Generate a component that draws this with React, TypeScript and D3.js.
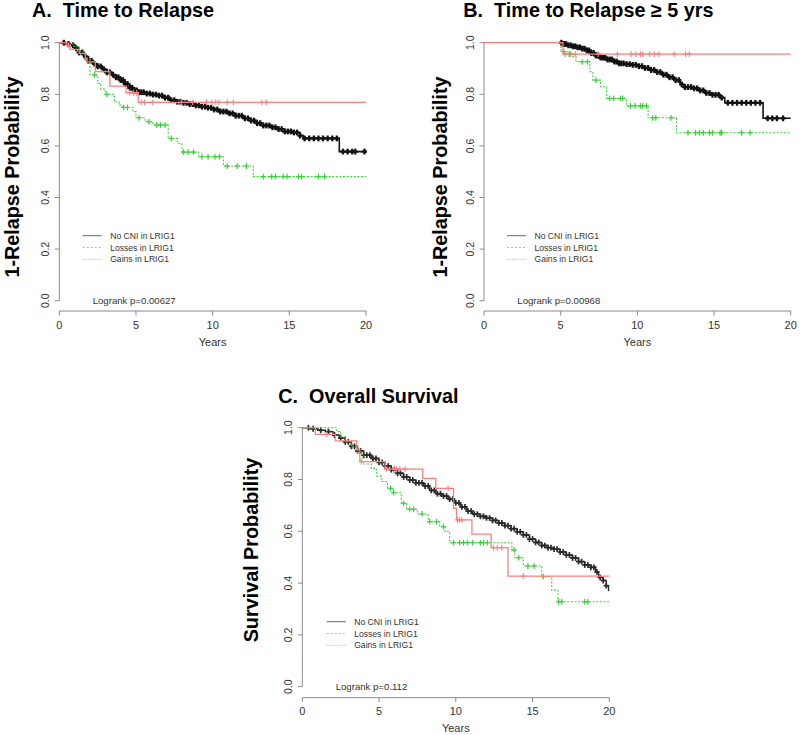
import React from "react";
import * as d3 from "d3";

// ---------- shared ticks / labels ----------
const xTicks = [0, 5, 10, 15, 20];
const yTicks = [0, 0.2, 0.4, 0.6, 0.8, 1.0];
const legendLabels = ["No CNI in LRIG1", "Losses in LRIG1", "Gains in LRIG1"];

// ---------- Panel A: Time to Relapse ----------
const A_noCNI_steps: [number, number][] = [
  [0, 1], [0.4, 0.995], [0.7, 0.99], [1.0, 0.978], [1.3, 0.962], [1.6, 0.946], [1.9, 0.93], [2.2, 0.918],
  [2.5, 0.908], [2.8, 0.897], [3.1, 0.885], [3.4, 0.876], [3.7, 0.866], [4.0, 0.855], [4.3, 0.84], [4.6, 0.825],
  [4.9, 0.815], [5.2, 0.808], [5.6, 0.803], [6.0, 0.799], [6.4, 0.795], [6.8, 0.787], [7.2, 0.777], [7.6, 0.771],
  [8.0, 0.767], [8.4, 0.762], [8.8, 0.757], [9.2, 0.752], [9.6, 0.748], [10.0, 0.741], [10.5, 0.733], [11.0, 0.726],
  [11.5, 0.717], [12.0, 0.707], [12.5, 0.698], [12.9, 0.688], [13.3, 0.679], [13.8, 0.672], [14.3, 0.665],
  [14.7, 0.656], [15.2, 0.652], [15.7, 0.64], [15.9, 0.629], [18.26, 0.578],
];
const A_noCNI_cens = [
  0.3, 0.6, 0.9, 1.1, 1.3, 1.5, 1.7, 1.9, 2.1, 2.3, 2.5, 2.7, 2.9, 3.1, 3.3, 3.5, 3.7, 3.85, 4.0, 4.15, 4.3,
  4.45, 4.6, 4.75, 4.9, 5.05, 5.2, 5.35, 5.5, 5.7, 5.9, 6.1, 6.3, 6.5, 6.7, 6.9, 7.1, 7.3, 7.5, 7.7, 7.9, 8.1,
  8.3, 8.5, 8.7, 8.9, 9.1, 9.3, 9.5, 9.7, 9.9, 10.1, 10.3, 10.5, 10.7, 10.9, 11.1, 11.3, 11.5, 11.7, 11.9, 12.1,
  12.3, 12.5, 12.7, 12.9, 13.1, 13.3, 13.5, 13.7, 13.9, 14.1, 14.3, 14.5, 14.7, 14.9, 15.1, 15.3, 15.5, 15.7,
  16.0, 16.3, 16.6, 16.9, 17.2, 17.5, 17.8, 18.1, 18.5, 18.8, 19.1, 19.3, 19.9,
];
const A_loss_steps: [number, number][] = [
  [0, 1], [0.5, 0.995], [0.9, 0.985], [1.3, 0.965], [1.7, 0.935], [2.0, 0.875], [2.5, 0.842], [2.7, 0.82],
  [3.0, 0.8], [3.6, 0.771], [3.9, 0.758], [4.1, 0.749], [4.8, 0.733], [5.0, 0.709], [5.6, 0.694], [6.1, 0.681],
  [7.1, 0.629], [7.7, 0.61], [8.0, 0.576], [9.1, 0.558], [10.7, 0.522], [12.65, 0.481],
];
const A_loss_cens = [
  2.3, 3.1, 4.2, 4.45, 5.2, 5.85, 6.35, 6.6, 6.9, 7.3, 8.1, 8.4, 8.75, 9.3, 9.7, 10.15, 10.45, 10.95, 11.6,
  12.2, 13.3, 13.85, 14.1, 14.6, 14.85, 15.6, 15.8, 16.9, 17.3,
];
const A_gain_steps: [number, number][] = [
  [0, 1], [0.45, 0.99], [0.7, 0.974], [1.3, 0.959], [1.7, 0.94], [1.8, 0.926], [2.35, 0.888], [3.3, 0.832],
  [4.35, 0.806], [5.15, 0.769],
];
const A_gain_cens = [0.6, 4.6, 4.85, 5.05, 5.35, 5.55, 6.1, 7.95, 8.7, 9.6, 9.95, 10.2, 10.4, 10.95, 11.35, 13.2, 13.5];

// ---------- Panel B: Time to Relapse >= 5 yrs (conditional curves begin at 5 yrs) ----------
const B_noCNI_steps: [number, number][] = [
  [5.0, 1], [5.1, 0.995], [5.4, 0.99], [5.8, 0.986], [6.1, 0.982], [6.4, 0.977], [6.7, 0.97], [7.0, 0.96],
  [7.3, 0.95], [7.6, 0.942], [8.0, 0.935], [8.4, 0.927], [8.8, 0.92], [9.2, 0.917], [9.6, 0.914], [10.0, 0.909],
  [10.4, 0.902], [10.8, 0.894], [11.2, 0.886], [11.6, 0.876], [12.0, 0.866], [12.4, 0.855], [12.8, 0.838],
  [13.1, 0.828], [13.6, 0.823], [14.0, 0.815], [14.4, 0.805], [14.9, 0.798], [15.4, 0.787], [15.7, 0.767],
  [18.2, 0.707],
];
const B_noCNI_cens = [
  5.05, 5.15, 5.25, 5.35, 5.5, 5.65, 5.8, 5.95, 6.1, 6.25, 6.4, 6.55, 6.7, 6.85, 7.0, 7.15, 7.3, 7.45, 7.6, 7.75,
  7.9, 8.05, 8.2, 8.35, 8.5, 8.65, 8.8, 8.95, 9.1, 9.3, 9.5, 9.7, 9.9, 10.1, 10.3, 10.5, 10.7, 10.9, 11.1, 11.3,
  11.5, 11.7, 11.9, 12.1, 12.3, 12.5, 12.7, 12.9, 13.1, 13.3, 13.5, 13.7, 13.9, 14.1, 14.3, 14.5, 14.7, 14.9,
  15.1, 15.3, 15.5, 15.9, 16.2, 16.5, 16.8, 17.1, 17.4, 17.7, 18.0, 18.5, 18.8, 19.1, 19.5,
];
const B_loss_steps: [number, number][] = [
  [5.0, 1], [5.02, 0.965], [5.5, 0.956], [5.8, 0.946], [6.0, 0.926], [6.9, 0.888], [7.1, 0.855], [7.6, 0.829],
  [8.0, 0.784], [9.3, 0.755], [10.7, 0.709], [12.55, 0.651],
];
const B_loss_cens = [
  5.2, 5.55, 5.65, 6.4, 6.75, 7.3, 8.2, 8.45, 8.9, 9.05, 9.55, 9.85, 10.2, 10.35, 10.6, 11.0, 11.2, 12.2, 13.3,
  13.8, 14.05, 14.3, 14.7, 14.9, 15.4, 15.5, 16.8, 17.35,
];
const B_gain_steps: [number, number][] = [[0, 1], [5.15, 0.956]];
const B_gain_cens = [5.3, 5.6, 5.95, 7.45, 8.7, 9.6, 9.9, 10.2, 10.35, 10.8, 11.1, 11.4, 12.4, 13.15, 13.4];

// ---------- Panel C: Overall Survival ----------
const C_noCNI_steps: [number, number][] = [
  [0, 1], [0.5, 0.996], [1.0, 0.99], [1.5, 0.985], [2.0, 0.972], [2.4, 0.96], [2.8, 0.945], [3.2, 0.928],
  [3.6, 0.91], [4.0, 0.894], [4.5, 0.881], [5.0, 0.866], [5.4, 0.852], [5.8, 0.838], [6.2, 0.824], [6.6, 0.81],
  [7.0, 0.798], [7.4, 0.787], [7.9, 0.775], [8.3, 0.758], [8.7, 0.745], [9.1, 0.736], [9.5, 0.724], [9.9, 0.71],
  [10.3, 0.694], [10.7, 0.678], [11.1, 0.666], [11.6, 0.658], [12.0, 0.652], [12.4, 0.642], [12.8, 0.632],
  [13.2, 0.622], [13.6, 0.61], [14.0, 0.598], [14.4, 0.586], [14.8, 0.57], [15.2, 0.557], [15.6, 0.545],
  [16.0, 0.537], [16.4, 0.531], [16.8, 0.52], [17.2, 0.509], [17.6, 0.497], [18.0, 0.483], [18.4, 0.47],
  [18.8, 0.461], [19.1, 0.443], [19.3, 0.422], [19.6, 0.41], [19.8, 0.39], [19.95, 0.372],
];
const C_noCNI_cens = [
  0.4, 0.7, 1.2, 1.7, 2.1, 2.5, 2.8, 3.0, 3.2, 3.4, 3.6, 3.8, 4.0, 4.2, 4.4, 4.6, 4.8, 5.0, 5.2, 5.4, 5.6, 5.8,
  6.0, 6.2, 6.4, 6.6, 6.8, 7.0, 7.2, 7.4, 7.6, 7.8, 8.0, 8.2, 8.4, 8.6, 8.8, 9.0, 9.2, 9.4, 9.6, 9.8, 10.0, 10.2,
  10.4, 10.6, 10.8, 11.0, 11.2, 11.4, 11.6, 11.8, 12.0, 12.2, 12.4, 12.6, 12.8, 13.0, 13.2, 13.4, 13.6, 13.8,
  14.0, 14.2, 14.4, 14.6, 14.8, 15.0, 15.2, 15.4, 15.6, 15.8, 16.0, 16.2, 16.4, 16.6, 16.8, 17.0, 17.2, 17.4,
  17.6, 17.8, 18.0, 18.2, 18.4, 18.6, 18.8, 19.0, 19.2, 19.4, 19.6, 19.8,
];
const C_loss_steps: [number, number][] = [
  [0, 1], [2.25, 0.985], [2.5, 0.965], [2.8, 0.946], [3.2, 0.927], [3.6, 0.901], [3.95, 0.86], [4.5, 0.843],
  [4.85, 0.813], [5.15, 0.792], [5.55, 0.766], [5.9, 0.749], [6.45, 0.708], [6.8, 0.685], [7.5, 0.667],
  [8.2, 0.637], [8.95, 0.618], [9.3, 0.599], [9.6, 0.556], [13.65, 0.528], [13.85, 0.498], [14.4, 0.466],
  [15.6, 0.425], [16.25, 0.373], [16.65, 0.328],
];
const C_loss_cens = [
  5.75, 5.95, 6.6, 7.0, 7.25, 7.8, 8.3, 8.75, 9.2, 9.85, 10.25, 10.5, 10.75, 11.1, 11.6, 11.8, 12.05, 13.8,
  14.1, 14.7, 15.1, 15.7, 16.7, 16.9, 18.4, 18.6,
];
const C_gain_steps: [number, number][] = [
  [0, 1], [0.85, 0.974], [2.15, 0.949], [3.55, 0.914], [3.75, 0.869], [5.4, 0.84], [7.85, 0.804], [8.7, 0.766],
  [9.85, 0.689], [10.05, 0.644], [11.05, 0.589], [12.3, 0.537], [13.4, 0.427],
];
const C_gain_cens = [1.6, 3.85, 5.5, 6.0, 6.15, 6.35, 6.7, 9.5, 10.1, 10.25, 10.4, 12.45, 12.7, 13.0, 14.4];

const titles = ["A.  Time to Relapse", "B.  Time to Relapse \u2265 5 yrs", "C.  Overall Survival"];
const yLabels = ["1-Relapse Probability", "1-Relapse Probability", "Survival Probability"];
const logranks = ["Logrank p=0.00627", "Logrank p=0.00968", "Logrank p=0.112"];

const FONT = "'Liberation Sans', Arial, Helvetica, sans-serif";
const COL_GREEN = "#3ad23a";
const COL_RED = "#ff7d7d";

type Series = {
  steps: [number, number][]; cens: number[]; color: string; dash?: string;
  width: number; censWidth: number; arm: number;
};

type PanelCfg = {
  x0: number; x1: number; yTop: number; yBot: number; axisY: number;
  tickLabelX: number; xLabelY: number; yearsY: number;
  yLabX: number; yLabY: number;
  titleX: number; titleY: number; title: string; yLabel: string;
  legX: number; legY: number; logX: number; logY: number; logText: string;
  series: Series[];
};

function stepAt(steps: [number, number][], t: number) {
  let v = steps[0][1];
  for (const [st, sv] of steps) {
    if (st <= t) v = sv;
    else break;
  }
  return v;
}

function Panel({ c }: { c: PanelCfg }) {
  const x = d3.scaleLinear().domain([0, 20]).range([c.x0, c.x1]);
  const y = d3.scaleLinear().domain([0, 1]).range([c.yBot, c.yTop]);
  const line = d3
    .line<[number, number]>()
    .x((d) => x(d[0]))
    .y((d) => y(d[1]))
    .curve(d3.curveStepAfter);
  const axisCol = "#8a8a8a";
  const textCol = "#333";
  const legendSamples = [
    { color: "#666", dash: undefined as string | undefined },
    { color: "#7fe07f", dash: "2,2" },
    { color: "#ffb0b0", dash: "1.5,1" },
  ];
  return (
    <g>
      <text x={c.titleX} y={c.titleY} fontFamily={FONT} fontWeight="bold" fontSize={19.8} fill="#000" style={{ whiteSpace: "pre" }}>
        {c.title}
      </text>
      <text
        transform={`translate(${c.yLabX},${c.yLabY}) rotate(-90)`}
        textAnchor="middle"
        dominantBaseline="central"
        fontFamily={FONT}
        fontWeight="bold"
        fontSize={19.8}
        fill="#000"
      >
        {c.yLabel}
      </text>
      {/* y axis */}
      <line x1={c.x0} x2={c.x0} y1={y(0)} y2={y(1)} stroke={axisCol} strokeWidth={1} />
      {yTicks.map((t) => (
        <g key={"yt" + t}>
          <line x1={c.x0 - 4.5} x2={c.x0} y1={y(t)} y2={y(t)} stroke={axisCol} strokeWidth={1} />
          <text
            transform={`translate(${c.tickLabelX},${y(t)}) rotate(-90)`}
            textAnchor="middle"
            dominantBaseline="central"
            fontFamily={FONT}
            fontSize={10.5}
            fill={textCol}
          >
            {t.toFixed(1)}
          </text>
        </g>
      ))}
      {/* x axis */}
      <line x1={x(0)} x2={x(20)} y1={c.axisY} y2={c.axisY} stroke={axisCol} strokeWidth={1} />
      {xTicks.map((t) => (
        <g key={"xt" + t}>
          <line x1={x(t)} x2={x(t)} y1={c.axisY} y2={c.axisY + 4.5} stroke={axisCol} strokeWidth={1} />
          <text x={x(t)} y={c.xLabelY} textAnchor="middle" dominantBaseline="central" fontFamily={FONT} fontSize={11} fill={textCol}>
            {t}
          </text>
        </g>
      ))}
      <text x={(c.x0 + c.x1) / 2} y={c.yearsY} textAnchor="middle" dominantBaseline="central" fontFamily={FONT} fontSize={11} fill={textCol}>
        Years
      </text>
      {/* curves */}
      {c.series.map((s, i) => {
        const pts: [number, number][] = [...s.steps, [20, s.steps[s.steps.length - 1][1]]];
        return (
          <g key={"s" + i}>
            <path d={line(pts) || ""} fill="none" stroke={s.color} strokeWidth={s.width} strokeDasharray={s.dash} />
            {s.cens.map((t, j) => {
              const cx = x(t);
              const cy = y(stepAt(s.steps, t));
              return (
                <g key={j} stroke={s.color} strokeWidth={s.censWidth}>
                  <line x1={cx - s.arm} x2={cx + s.arm} y1={cy} y2={cy} />
                  <line x1={cx} x2={cx} y1={cy - s.arm - 0.3} y2={cy + s.arm + 0.3} />
                </g>
              );
            })}
          </g>
        );
      })}
      {/* legend */}
      {legendLabels.map((lab, i) => {
        const ly = c.legY + i * 11.8;
        return (
          <g key={"lg" + i}>
            <line x1={c.legX} x2={c.legX + 19} y1={ly} y2={ly} stroke={legendSamples[i].color} strokeWidth={1} strokeDasharray={legendSamples[i].dash} />
            <text x={c.legX + 27.5} y={ly} dominantBaseline="central" fontFamily={FONT} fontSize={8.6} fill={textCol}>
              {lab}
            </text>
          </g>
        );
      })}
      <text x={c.logX} y={c.logY} dominantBaseline="central" fontFamily={FONT} fontSize={9.6} fill={textCol}>
        {c.logText}
      </text>
    </g>
  );
}

function mkSeries(
  noCNI: [number, number][], noCens: number[], loss: [number, number][], lossCens: number[],
  gain: [number, number][], gainCens: number[], blackW: number, blackCensW: number, blackCol: string
): Series[] {
  return [
    { steps: noCNI, cens: noCens, color: blackCol, width: blackW, censWidth: blackCensW, arm: 2.6 },
    { steps: loss, cens: lossCens, color: COL_GREEN, dash: "2,1.6", width: 1.1, censWidth: 1.2, arm: 2.6 },
    { steps: gain, cens: gainCens, color: COL_RED, width: 1.3, censWidth: 1.1, arm: 2.6 },
  ];
}

const panels: PanelCfg[] = [
  {
    x0: 59.3, x1: 366, yTop: 42.7, yBot: 300.7, axisY: 311,
    tickLabelX: 44.7, xLabelY: 324.5, yearsY: 342,
    yLabX: 11.5, yLabY: 177,
    titleX: 32, titleY: 16.7, title: titles[0], yLabel: yLabels[0],
    legX: 82.7, legY: 235.7, logX: 92.7, logY: 300.7, logText: logranks[0],
    series: mkSeries(A_noCNI_steps, A_noCNI_cens, A_loss_steps, A_loss_cens, A_gain_steps, A_gain_cens, 1.6, 2.3, "#111"),
  },
  {
    x0: 484, x1: 790.7, yTop: 42.7, yBot: 300.7, axisY: 311,
    tickLabelX: 470, xLabelY: 324.5, yearsY: 342,
    yLabX: 439.5, yLabY: 177,
    titleX: 463.3, titleY: 16.7, title: titles[1], yLabel: yLabels[1],
    legX: 507, legY: 235.7, logX: 517.3, logY: 300.7, logText: logranks[1],
    series: mkSeries(B_noCNI_steps, B_noCNI_cens, B_loss_steps, B_loss_cens, B_gain_steps, B_gain_cens, 1.6, 2.3, "#111"),
  },
  {
    x0: 302.3, x1: 609.3, yTop: 427.7, yBot: 686.7, axisY: 697.7,
    tickLabelX: 287.5, xLabelY: 710.5, yearsY: 728.3,
    yLabX: 251, yLabY: 550,
    titleX: 278.3, titleY: 403.3, title: titles[2], yLabel: yLabels[2],
    legX: 326.7, legY: 621.7, logX: 335.7, logY: 686, logText: logranks[2],
    series: mkSeries(C_noCNI_steps, C_noCNI_cens, C_loss_steps, C_loss_cens, C_gain_steps, C_gain_cens, 1.4, 1.7, "#2a2a2a"),
  },
];

export default function App() {
  return (
    <svg width={800} height={735} viewBox="0 0 800 735" style={{ position: "absolute", left: 0, top: 0, background: "#fff" }}>
      <rect x={0} y={0} width={800} height={735} fill="#fff" />
      {panels.map((p, i) => (
        <Panel key={i} c={p} />
      ))}
    </svg>
  );
}
